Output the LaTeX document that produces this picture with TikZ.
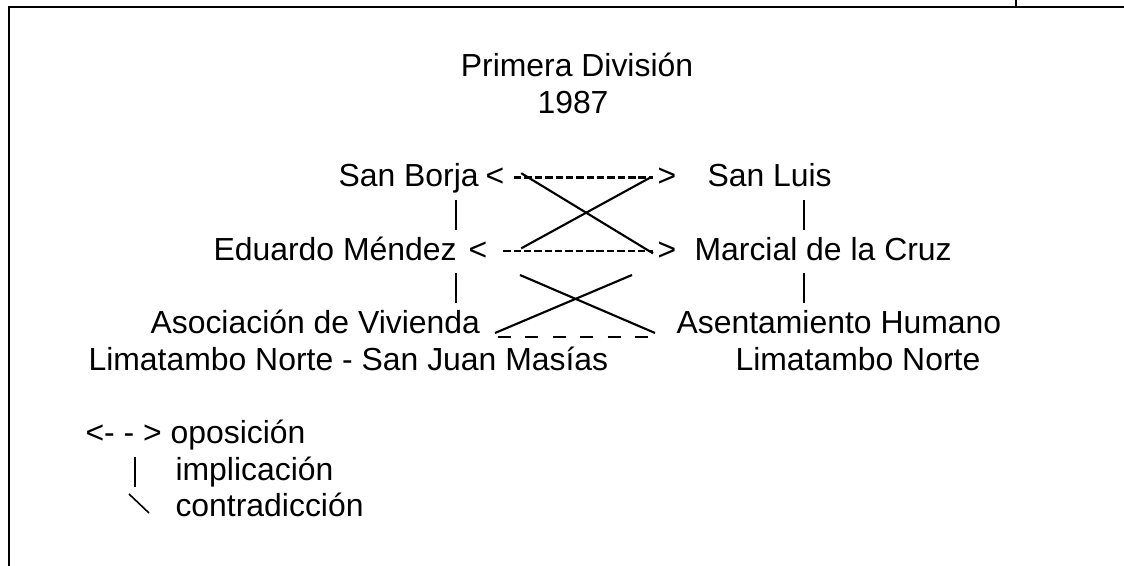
\documentclass[tikz,border=0pt]{standalone}
\usepackage{fontspec}
\setmainfont{Liberation Sans}
\usepackage{tikz}
\usepackage{xcolor}
\tikzstyle{word} = [inner sep=0pt, font=\fontsize{12}{14}\selectfont]
\tikzstyle{frame} = [line width=0.9pt]
\tikzstyle{opos} = [line width=0.9pt, dash pattern=on 2.8pt off 1.1pt]
\tikzstyle{impl} = [line width=0.95pt]
\tikzstyle{contra} = [line width=0.8pt]
\tikzstyle{subc} = [line width=0.8pt, dash pattern=on 4.9pt off 5.4pt]

\begin{document}
\begin{tikzpicture}[x=0.376pt, y=-0.376pt]

    \useasboundingbox (0,0) rectangle (1124,566);

    \coordinate (c0) at (9,566);
    \coordinate (c1) at (9,7);
    \coordinate (c2) at (1124,7);
    \coordinate (t0) at (1016,0);
    \coordinate (t1) at (1016,7);
    \draw [frame] (c0) -- (c1) -- (c2);
    \draw [frame] (t0) -- (t1);

    \node (title) [word, anchor=base] at (577,77) {Primera División};
    \node (year) [word, anchor=base] at (573,113.7) {1987};

    \node (sb) [word, anchor=base west] at (338,187) {San Borja};
    \node (lt1) [word, anchor=base west] at (485,187) {<};
    \node (gt1) [word, anchor=base west] at (657,187) {>};
    \node (sl) [word, anchor=base west] at (707,187) {San Luis};

    \node (em) [word, anchor=base west] at (213,260.3) {Eduardo Méndez};
    \node (lt2) [word, anchor=base west] at (468,260.3) {<};
    \node (gt2) [word, anchor=base west] at (657,260.3) {>};
    \node (mc) [word, anchor=base west] at (694,260.3) {Marcial de la Cruz};

    \node (av) [word, anchor=base west] at (150,333.7) {Asociación de Vivienda};
    \node (ah) [word, anchor=base west] at (676,333.7) {Asentamiento Humano};
    \node (av2) [word, anchor=base west] at (88,370.3) {Limatambo Norte - San Juan Masías};
    \node (ah2) [word, anchor=base west] at (735,370.3) {Limatambo Norte};

    \node (lg1) [word, anchor=base west] at (85,443.7) {<- - > oposición};
    \node (lg2) [word, anchor=base west] at (175,480.3) {implicación};
    \node (lg3) [word, anchor=base west] at (175,517) {contradicción};

    \draw [opos, shorten <=3.5pt, shorten >=1.5pt] (lt1) -- (gt1);
    \draw [opos, shorten <=5.8pt, shorten >=1.5pt] (lt2) -- (gt2);

    \draw [contra] ([xshift=6.2pt,yshift=1.7pt]lt1.east) -- ([xshift=-1.5pt,yshift=-0.9pt]gt2.west);
    \draw [contra] ([xshift=-2.6pt]gt1.west) -- ([xshift=12.6pt,yshift=1pt]lt2.east);

    \coordinate (x1) at (520,275);
    \coordinate (x2) at (655,333);
    \coordinate (x3) at (632,275);
    \coordinate (x4) at (495,333);
    \draw [contra] (x1) -- (x2);
    \draw [contra] (x3) -- (x4);

    \coordinate (u1) at (498,337);
    \coordinate (u2) at (648,337);
    \draw [subc] (u1) -- (u2);

    \coordinate (i1) at (456,200);
    \coordinate (i2) at (456,230);
    \coordinate (i3) at (456,273);
    \coordinate (i4) at (456,303);
    \coordinate (i5) at (804,200);
    \coordinate (i6) at (804,230);
    \coordinate (i7) at (804,273);
    \coordinate (i8) at (804,303);
    \draw [impl] (i1) -- (i2);
    \draw [impl] (i3) -- (i4);
    \draw [impl] (i5) -- (i6);
    \draw [impl] (i7) -- (i8);

    \coordinate (i9) at (135,457);
    \coordinate (i10) at (135,487);
    \coordinate (k1) at (129,494);
    \coordinate (k2) at (149,513);
    \draw [impl] (i9) -- (i10);
    \draw [contra, line width=0.6pt] (k1) -- (k2);

\end{tikzpicture}
\end{document}
